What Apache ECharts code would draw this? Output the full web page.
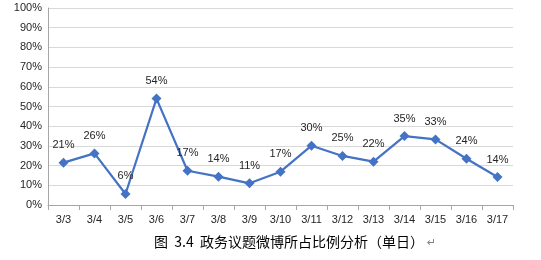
<!DOCTYPE html>
<html><head><meta charset="utf-8">
<script src="https://cdn.jsdelivr.net/npm/echarts@6/dist/echarts.min.js"></script>
<style>html,body{margin:0;padding:0;background:#fff}#c{width:541px;height:260px}</style>
</head><body><div id="c"></div>
<script>
const categories = ['3/3','3/4','3/5','3/6','3/7','3/8','3/9','3/10','3/11','3/12','3/13','3/14','3/15','3/16','3/17'];
const values = [21.5,26.2,5.6,54,17.4,14.4,11,16.9,30.1,24.9,22,35,33.3,23.5,14.2];
const pointLabels = ['21%','26%','6%','54%','17%','14%','11%','17%','30%','25%','22%','35%','33%','24%','14%'];
const yTicks = [0,10,20,30,40,50,60,70,80,90,100];
const caption = '图  3.4  政务议题微博所占比例分析（单日）';

const chart = echarts.init(document.getElementById('c'), null, {renderer:'canvas'});
chart.setOption({
  animation:false,
  grid:{left:48,right:28,top:8,bottom:55},
  xAxis:{type:'category',data:categories,boundaryGap:true,
    axisLine:{lineStyle:{color:'#a6a6a6'}},
    axisTick:{show:true,length:5,lineStyle:{color:'#a6a6a6'}},
    axisLabel:{color:'#262626',fontSize:11,fontFamily:'Liberation Sans, Arial',margin:9}},
  yAxis:{type:'value',min:0,max:100,interval:10,
    axisLine:{show:true,lineStyle:{color:'#a6a6a6'}},
    axisTick:{show:false},
    splitLine:{lineStyle:{color:'#d9d9d9'}},
    axisLabel:{color:'#262626',fontSize:11,fontFamily:'Liberation Sans, Arial',margin:6,
      formatter:v=>yTicks.includes(v)?v+'%':''}},
  series:[{type:'line',data:values,symbol:'diamond',symbolSize:10,
    lineStyle:{color:'#4472c4',width:2.2},itemStyle:{color:'#4472c4'},
    label:{show:true,position:'top',distance:7,color:'#262626',fontSize:11,
      fontFamily:'Liberation Sans, Arial',formatter:p=>pointLabels[p.dataIndex]}}],
  graphic:[{type:'text',left:154,top:235,style:{text:caption,fill:'#000',
      font:'14px "Noto Sans CJK SC"'}},
    {type:'text',left:427,top:238,style:{text:'↵',fill:'#7f7f7f',font:'11px "DejaVu Sans"'}}]
});
</script></body></html>
